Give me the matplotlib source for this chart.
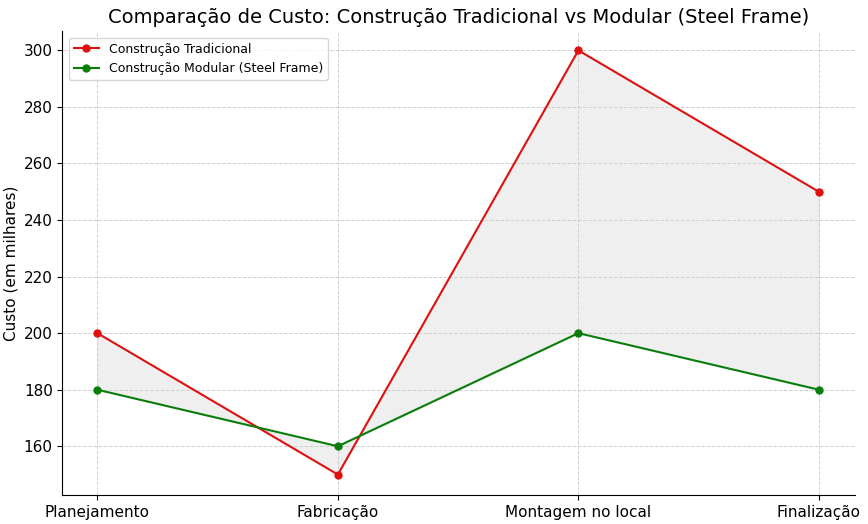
import matplotlib.pyplot as plt

etapas = ["Planejamento", "Fabricação", "Montagem no local", "Finalização"]
tradicional = [200, 150, 300, 250]
modular = [180, 160, 200, 180]

fig, ax = plt.subplots(figsize=(8.68, 5.24), dpi=100)
x = range(len(etapas))
ax.plot(x, tradicional, "o-", color="#e01010", lw=1.5, ms=5, label="Construção Tradicional")
ax.plot(x, modular, "o-", color="#0a7d0a", lw=1.5, ms=5, label="Construção Modular (Steel Frame)")
ax.fill_between(x, tradicional, modular, color="#d8d8d8", alpha=0.4)

ax.set_xticks(list(x))
ax.set_xticklabels(etapas, fontsize=11)
ax.tick_params(axis="y", labelsize=11)
ax.set_xlim(-0.145, 3.15)
ax.set_ylim(142.7, 306.7)
ax.set_ylabel("Custo (em milhares)", fontsize=11)
ax.set_title("Comparação de Custo: Construção Tradicional vs Modular (Steel Frame)", fontsize=14)
ax.grid(True, linestyle="--", color="#d0d0d0", lw=0.7)
for s in ["top", "right"]:
    ax.spines[s].set_visible(False)
ax.legend(loc="upper left", fontsize=9)

fig.subplots_adjust(left=0.072, right=0.985, bottom=0.055, top=0.94)
fig.savefig("out.png", dpi=100)
